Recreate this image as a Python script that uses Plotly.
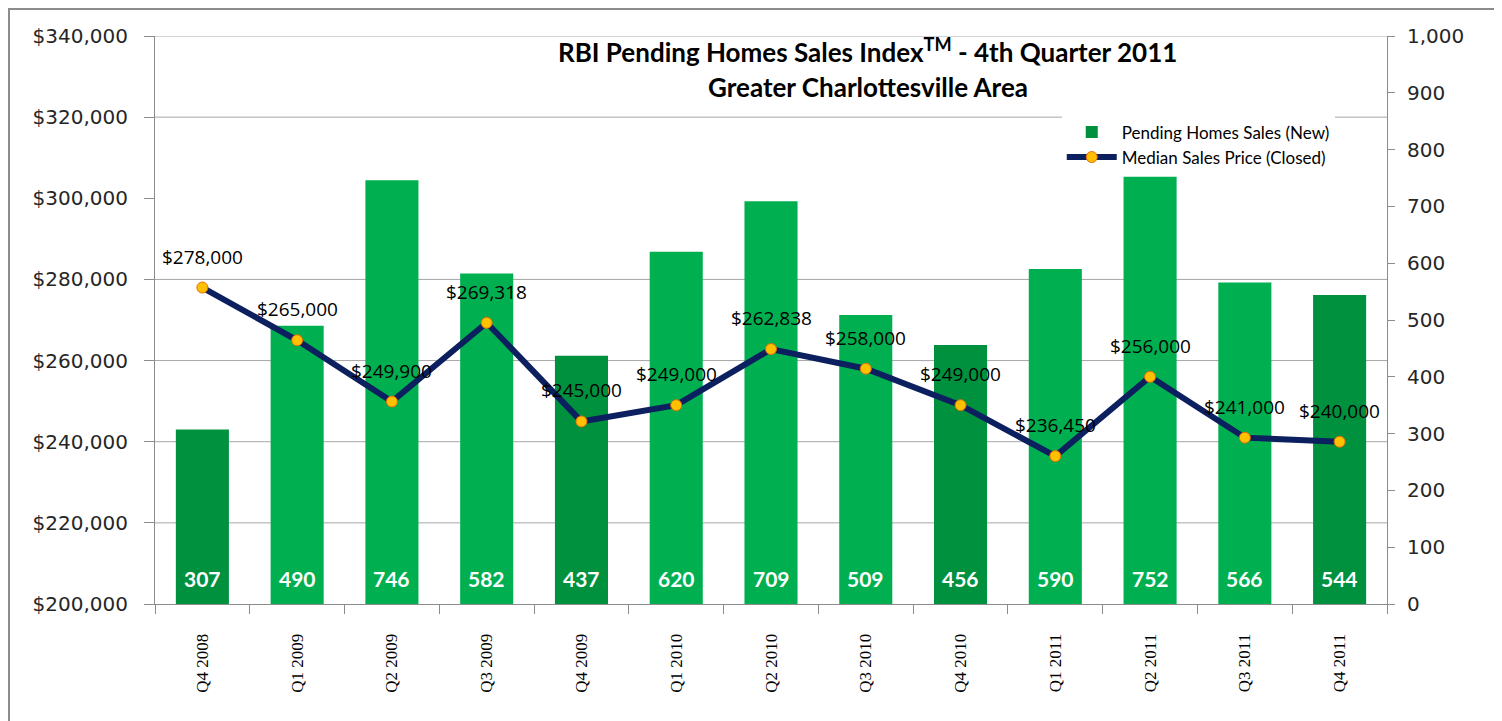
import plotly.graph_objects as go

# datos
quarters = ["Q4 2008", "Q1 2009", "Q2 2009", "Q3 2009", "Q4 2009", "Q1 2010", "Q2 2010",
            "Q3 2010", "Q4 2010", "Q1 2011", "Q2 2011", "Q3 2011", "Q4 2011"]
pending_sales = [307, 490, 746, 582, 437, 620, 709, 509, 456, 590, 752, 566, 544]
median_price = [278000, 265000, 249900, 269318, 245000, 249000, 262838,
                258000, 249000, 236450, 256000, 241000, 240000]
price_ticks = [200000, 220000, 240000, 260000, 280000, 300000, 320000, 340000]
price_grid = [220000, 240000, 260000, 280000, 320000, 340000]
count_ticks = [0, 100, 200, 300, 400, 500, 600, 700, 800, 900, 1000]
title_lines = ["RBI Pending Homes Sales Index<sup>TM</sup> - 4th Quarter 2011",
               "Greater Charlottesville Area"]

LIGHT = "#00B050"
DARK = "#00913F"
bar_colors = [DARK if q.startswith("Q4") else LIGHT for q in quarters]

fig = go.Figure()

# Barras (eje derecho)
fig.add_trace(go.Bar(
    x=quarters, y=pending_sales, yaxis="y", name="Pending Homes Sales (New)",
    marker=dict(color=bar_colors, line=dict(width=0)),
    hoverinfo="x+y",
))

# Linea de precio mediano (eje izquierdo)
fig.add_trace(go.Scatter(
    x=quarters, y=median_price, yaxis="y2", mode="lines+markers",
    name="Median Sales Price (Closed)",
    line=dict(color="#0C1F5E", width=6),
    marker=dict(size=11, color="#FFC000", line=dict(color="#E46C0A", width=1)),
))

# Etiquetas de precio
for q, p in zip(quarters, median_price):
    fig.add_annotation(x=q, y=p, yref="y2", text=f"${p:,}", showarrow=False,
                       yshift=31, font=dict(family="Open Sans", size=19, color="black"))

# Etiquetas de barras
for q, v in zip(quarters, pending_sales):
    fig.add_annotation(x=q, y=0, yref="y", text=f"<b>{v}</b>", showarrow=False,
                       yanchor="middle", yshift=26,
                       font=dict(family="Lato", size=21, color="white"))

# Titulo en dos lineas
for ty, line in zip([0.975, 0.911], title_lines):
    fig.add_annotation(xref="paper", yref="paper", x=0.5787, y=ty, text=f"<b>{line}</b>",
                       showarrow=False, xanchor="center", yanchor="middle",
                       font=dict(family="Lato", size=26, color="black"))

# Rejilla horizontal
for g in price_grid:
    fig.add_shape(type="line", xref="paper", x0=0, x1=1, yref="y2", y0=g, y1=g,
                  line=dict(color="#A6A6A6", width=1), layer="below")

# Borde exterior
fig.add_shape(type="rect", xref="paper", yref="paper",
              x0=-0.1185, x1=1.0893, y0=-0.25, y1=1.0475,
              line=dict(color="#8C8C8C", width=2))

# la pagina tiene 8px de margen en body: se compensa aqui
fig.update_layout(
    width=1494, height=713,
    margin=dict(l=147, r=115, t=28, b=117, autoexpand=False),
    paper_bgcolor="white", plot_bgcolor="white",
    bargap=0.44,
    legend=dict(
        x=0.736, y=0.862, xanchor="left", yanchor="top",
        bgcolor="white", font=dict(family="Lato", size=17, color="black"),
        tracegroupgap=0, itemwidth=50,
    ),
    xaxis=dict(
        type="category", range=[-0.5, len(quarters) - 0.5],
        tickangle=-90, tickson="boundaries",
        ticks="outside", ticklen=9, tickcolor="#8C8C8C", automargin=False,
        ticklabelstandoff=22,
        showline=True, linecolor="#8C8C8C", linewidth=1, showgrid=False,
        tickfont=dict(family="Liberation Serif", size=17, color="black"),
    ),
    yaxis=dict(
        side="right", range=[0, 1000], tickvals=count_ticks,
        ticktext=[f"{v:,}" for v in count_ticks], automargin=False,
        ticks="outside", ticklen=7, tickcolor="#8C8C8C", ticklabelstandoff=8,
        showline=True, linecolor="#8C8C8C", linewidth=1, showgrid=False,
        zeroline=False,
        tickfont=dict(family="DejaVu Sans", size=20, color="#262626"),
    ),
    yaxis2=dict(
        overlaying="y", side="left", range=[200000, 340000], tickvals=price_ticks,
        ticktext=[f"${v:,}" for v in price_ticks], automargin=False,
        ticks="outside", ticklen=10, tickcolor="#8C8C8C", ticklabelstandoff=12,
        showline=True, linecolor="#8C8C8C", linewidth=1, showgrid=False,
        zeroline=False,
        tickfont=dict(family="DejaVu Sans", size=20, color="#262626"),
    ),
)

fig.write_html("out.html")
